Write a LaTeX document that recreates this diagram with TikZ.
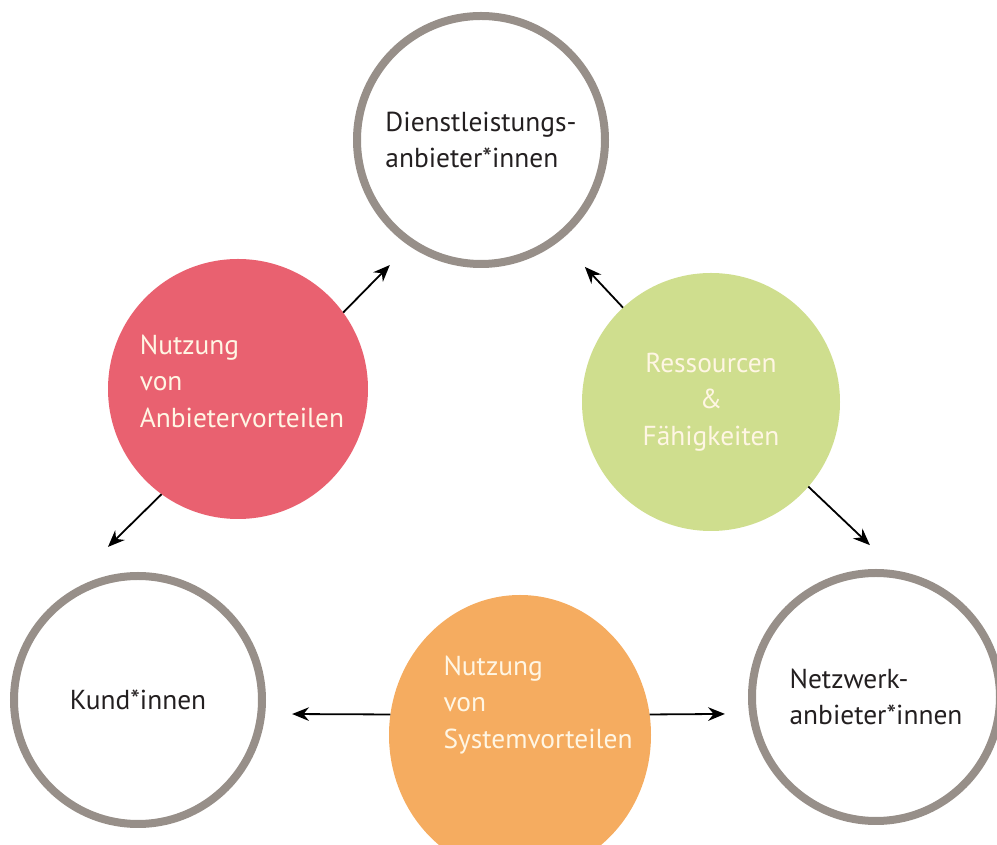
\documentclass[tikz,border=0pt]{standalone}
\usepackage{fontspec}
\setmainfont{PT Sans}
\usepackage{tikz}
\usetikzlibrary{shapes,positioning,calc,arrows.meta}

\definecolor{ringgray}{RGB}{151,143,137}
\definecolor{darktext}{RGB}{35,31,32}
\definecolor{lighttext}{RGB}{255,246,228}
\definecolor{ankred}{RGB}{233,97,112}
\definecolor{resgreen}{RGB}{207,222,142}
\definecolor{sysorange}{RGB}{245,172,96}

\begin{document}
\begin{tikzpicture}[
    labelfont/.style={font=\fontsize{19.5pt}{26pt}\selectfont},
    ring/.style={circle, draw=ringgray, line width=0.2cm, minimum size=6.2cm, inner sep=0pt, align=left, text=darktext, labelfont},
    blob/.style={inner sep=0pt, outer sep=0pt, text=lighttext, labelfont},
    link/.style={-{Stealth[length=0.42cm,width=0.34cm]}, line width=0.045cm, black}
]
    \useasboundingbox (0,0) rectangle (24.925,21.125);

    % Actors
    \foreach \nm/\pos/\txt in {dienst/{(12.025,17.625)}/{Dienstleistungs-\\anbieter*innen},
                               kund/{(3.45,3.625)}/{Kund*innen},
                               netz/{(21.9,3.7)}/{Netzwerk-\\anbieter*innen}}
        \node [ring] (\nm) at \pos {\txt};

    % Benefits
    \node [blob, circle, fill=ankred, minimum size=6.5cm] (ankvort) at (5.95,11.4) {};
    \node [blob, align=left] (ankvortl) at ($(ankvort)+(0.1,0.2)$) {Nutzung\\von\\Anbietervorteilen};
    \node [blob, circle, fill=resgreen, minimum size=6.45cm, align=center] (ressfaeh) at (17.775,11.075) {Ressourcen\\\&\\Fähigkeiten};
    \node [blob, ellipse, fill=sysorange, minimum width=6.55cm, minimum height=7cm] (sysvort) at (13,2.75) {};
    \node [blob, align=left] (sysvortl) at ($(sysvort)+(0.45,0.75)$) {Nutzung\\von\\Systemvorteilen};

    % Arrow tips
    \coordinate (dienstL) at ($(dienst)+(233.9:3.87)$);
    \coordinate (dienstR) at ($(dienst)+(309.3:4.1)$);
    \coordinate (kundT) at ($(kund)+(101.1:3.9)$);
    \coordinate (kundR) at ($(kund)+(-5.2:3.87)$);
    \coordinate (netzT) at ($(netz)+(92.3:3.8)$);
    \coordinate (netzL) at ($(netz)+(186.4:3.8)$);

    \foreach \from/\to in {ankvort.36/dienstL, ankvort.234/kundT,
                           ressfaeh.133/dienstR, ressfaeh.319/netzT,
                           sysvort.171/kundR, sysvort.9/netzL}
        \draw [link] (\from) -- (\to);

\end{tikzpicture}
\end{document}
